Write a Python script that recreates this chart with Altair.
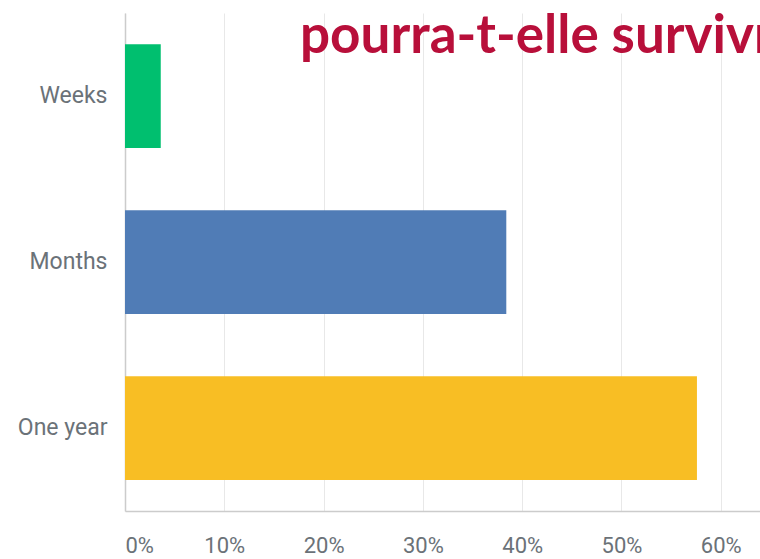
import altair as alt
import pandas as pd

categories = ["Weeks", "Months", "One year"]
shares = [0.036, 0.384, 0.576]
bar_colors = ["#00BF6F", "#507CB6", "#F8BE24"]
tick_values = [0, 0.1, 0.2, 0.3, 0.4, 0.5, 0.6]
title_text = "pourra-t-elle survivre"

df = pd.DataFrame({"category": categories, "share": shares})

label_color = "#6b7278"

bars = alt.Chart(df).mark_bar().encode(
    y=alt.Y(
        "category:N",
        sort=categories,
        scale=alt.Scale(paddingInner=0.375, paddingOuter=0.1875),
        axis=alt.Axis(
            title=None,
            ticks=False,
            grid=False,
            domainColor="#cccccc",
            domainWidth=1.5,
            labelFont="Roboto",
            labelFontSize=23,
            labelColor=label_color,
            labelPadding=18,
        ),
    ),
    x=alt.X(
        "share:Q",
        scale=alt.Scale(domain=[0, 0.6395], nice=False, zero=True),
        axis=alt.Axis(
            title=None,
            values=tick_values,
            format=".0%",
            ticks=False,
            tickSize=0,
            grid=True,
            gridColor="#e8e8e8",
            gridWidth=1,
            domainColor="#cccccc",
            domainWidth=1.5,
            labelFont="Roboto",
            labelFontSize=22,
            labelColor=label_color,
            labelPadding=24,
            labelFlush=True,
        ),
    ),
    color=alt.Color(
        "category:N",
        scale=alt.Scale(domain=categories, range=bar_colors),
        legend=None,
    ),
)

title = alt.Chart(pd.DataFrame({"t": [title_text]})).mark_text(
    align="left",
    baseline="alphabetic",
    font="Lato",
    fontWeight="bold",
    fontSize=53,
    color="#B80F3A",
).encode(
    text="t:N",
    x=alt.value(175),
    y=alt.value(40),
)

chart = (
    alt.layer(bars, title)
    .properties(
        width=635,
        height=498,
        autosize=alt.AutoSizeParams(type="none"),
        padding={"left": 125, "top": 13, "right": 0, "bottom": 48},
        background="white",
    )
    .configure_view(stroke=None)
)

chart.save("out.html", embed_options={"renderer": "svg", "actions": False})
